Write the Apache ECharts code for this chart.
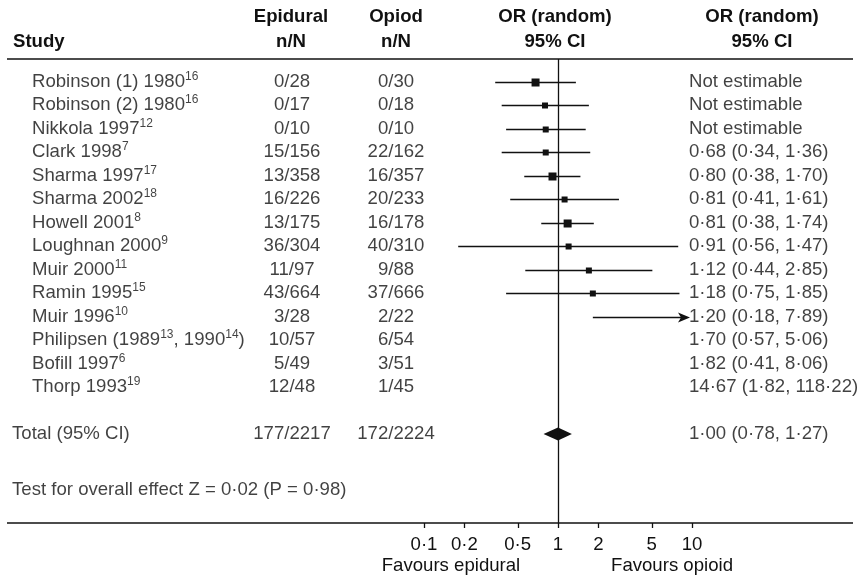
<!DOCTYPE html>
<html>
<head>
<meta charset="utf-8">
<script src="https://cdn.jsdelivr.net/npm/echarts@6/dist/echarts.min.js"></script>
<style>
  html, body { margin: 0; padding: 0; background: #ffffff; }
  #chart { width: 859px; height: 577px; }
</style>
</head>
<body>
<div id="chart"></div>
<script>
// ---- Data -------------------------------------------------------------
// Study names; "^nn" marks a reference superscript.
const studies = [
  'Robinson (1) 1980^16', 'Robinson (2) 1980^16', 'Nikkola 1997^12', 'Clark 1998^7',
  'Sharma 1997^17', 'Sharma 2002^18', 'Howell 2001^8', 'Loughnan 2000^9',
  'Muir 2000^11', 'Ramin 1995^15', 'Muir 1996^10', 'Philipsen (1989^13, 1990^14)',
  'Bofill 1997^6', 'Thorp 1993^19'
];
const epidural = ['0/28', '0/17', '0/10', '15/156', '13/358', '16/226', '13/175',
  '36/304', '11/97', '43/664', '3/28', '10/57', '5/49', '12/48'];
const opioid = ['0/30', '0/18', '0/10', '22/162', '16/357', '20/233', '16/178',
  '40/310', '9/88', '37/666', '2/22', '6/54', '3/51', '1/45'];
// Odds ratios with 95% CI (null = not estimable)
const oddsRatio = [null, null, null, 0.68, 0.80, 0.81, 0.81, 0.91, 1.12, 1.18, 1.20, 1.70, 1.82, 14.67];
const ciLow     = [null, null, null, 0.34, 0.38, 0.41, 0.38, 0.56, 0.44, 0.75, 0.18, 0.57, 0.41, 1.82];
const ciHigh    = [null, null, null, 1.36, 1.70, 1.61, 1.74, 1.47, 2.85, 1.85, 7.89, 5.06, 8.06, 118.22];

const totalLabel = 'Total (95% CI)';
const totalEpidural = '177/2217';
const totalOpioid = '172/2224';
const totalOR = 1.00, totalLow = 0.78, totalHigh = 1.27;
const effectTest = 'Test for overall effect Z = 0·02 (P = 0·98)';

const axisTicks = [0.1, 0.2, 0.5, 1, 2, 5, 10];

// ---- Styling ------------------------------------------------------------
const FONT = '"Liberation Sans", Arial, Helvetica, sans-serif';
const INK = '#111111';
const FS = 18.6;
const boxSize = [0, 0, 0, 8, 6, 6, 6, 8, 6, 8, 6, 6, 6, 6];   // weight squares, px

// Row layout on a shared (hidden) y scale: one unit per table row
const ROW_H = 23.5, TOP = 59, BOTTOM = 523, FIRST_ROW_Y = 81.5;
const Y_MIN = -(FIRST_ROW_Y - TOP) / ROW_H;
const Y_MAX = Y_MIN + (BOTTOM - TOP) / ROW_H;
const TOTAL_ROW = 15;
const TEST_ROW = 17.38;
const AXIS_MIN = 0.1, AXIS_MAX = 10;

const dot = v => v.toFixed(2).replace('.', '·');
const ciText = i => oddsRatio[i] == null ? 'Not estimable'
  : dot(oddsRatio[i]) + ' (' + dot(ciLow[i]) + ', ' + dot(ciHigh[i]) + ')';
const toRich = s => '{t|' + s.replace(/\^(\d+)/g, '}{s|$1}{t|') + '}';

// ---- Table columns: one narrow grid per column ------------------------
const columns = [
  { left: 32,  align: 'left'   },  // study
  { left: 292, align: 'center' },  // epidural n/N
  { left: 396, align: 'center' },  // opioid n/N
  { left: 689, align: 'left'   },  // OR text
  { left: 12,  align: 'left'   }   // summary lines
];

const grids = [{ left: 424, right: 859 - 692, top: TOP, bottom: 577 - BOTTOM }];
const xAxes = [{
  type: 'log', logBase: 10, min: AXIS_MIN, max: AXIS_MAX, gridIndex: 0, position: 'bottom',
  axisLine: { show: false, onZero: false },
  axisTick: { show: false },
  axisLabel: {
    customValues: axisTicks, margin: 12, fontSize: FS, fontFamily: FONT, color: INK,
    formatter: v => String(+v.toPrecision(3)).replace('.', '·')
  },
  minorTick: { show: false }, splitLine: { show: false }
}];
const yAxes = [{ type: 'value', inverse: true, min: Y_MIN, max: Y_MAX, show: false, gridIndex: 0 }];
columns.forEach((c, k) => {
  grids.push({ left: c.left, width: 10, top: TOP, bottom: 577 - BOTTOM });
  xAxes.push({ type: 'value', min: 0, max: 1, show: false, gridIndex: k + 1 });
  yAxes.push({ type: 'value', inverse: true, min: Y_MIN, max: Y_MAX, show: false, gridIndex: k + 1 });
});

function textSeries(colIdx, rows) {
  const c = columns[colIdx];
  return {
    type: 'scatter', xAxisIndex: colIdx + 1, yAxisIndex: colIdx + 1,
    symbolSize: 0, silent: true,
    data: rows.map(r => ({ value: [0, r.row], text: r.text })),
    label: {
      show: true,
      position: c.align === 'left' ? 'right' : 'inside',
      distance: 0,
      align: c.align, verticalAlign: 'middle',
      formatter: p => toRich(p.data.text),
      rich: {
        t: { fontSize: FS, fontFamily: FONT, color: INK, lineHeight: 22 },
        s: { fontSize: 12, fontFamily: FONT, color: INK, lineHeight: 14, verticalAlign: 'top' }
      }
    }
  };
}

// ---- Forest plot marks ------------------------------------------------
// estimable studies are stacked from the top row downward
const plotted = studies.map((s, i) => i).filter(i => oddsRatio[i] != null);
const ciData = plotted.map((i, k) => [ciLow[i], ciHigh[i], k, oddsRatio[i], boxSize[i]]);

function renderCI(params, api) {
  const lo = api.value(0), hi = api.value(1), row = api.value(2);
  const est = api.value(3), size = api.value(4);
  const start = api.coord([Math.max(lo, AXIS_MIN), row]);
  const end = api.coord([Math.min(hi, AXIS_MAX), row]);
  const y = Math.round(start[1]) + 0.5;
  const children = [];
  const lineEnd = hi > AXIS_MAX ? end[0] - 10 : end[0];
  children.push({
    type: 'line',
    shape: { x1: start[0], y1: y, x2: lineEnd, y2: y },
    style: { stroke: INK, lineWidth: 1.3 }
  });
  if (hi > AXIS_MAX) {
    children.push({
      type: 'polygon',
      shape: { points: [[end[0] - 2, y], [end[0] - 14, y - 5], [end[0] - 11, y], [end[0] - 14, y + 5]] },
      style: { fill: INK }
    });
  }
  if (est <= AXIS_MAX) {
    const c = api.coord([est, row]);
    children.push({
      type: 'rect',
      shape: { x: c[0] - size / 2, y: y - size / 2, width: size, height: size },
      style: { fill: INK }
    });
  }
  return { type: 'group', children };
}

function renderDiamond(params, api) {
  const lo = api.coord([api.value(0), api.value(2)]);
  const hi = api.coord([api.value(1), api.value(2)]);
  const mid = api.coord([api.value(3), api.value(2)]);
  const h = 6.5;
  return {
    type: 'polygon',
    shape: { points: [[lo[0], lo[1]], [mid[0], mid[1] - h], [hi[0], hi[1]], [mid[0], mid[1] + h]] },
    style: { fill: INK }
  };
}

// Downward tick marks under the log axis at the labelled values
function renderTick(params, api) {
  const p = api.coord([api.value(0), api.value(1)]);
  const x = Math.round(p[0]) + 0.5;
  return {
    type: 'line',
    shape: { x1: x, y1: p[1], x2: x, y2: p[1] + 5 },
    style: { stroke: INK, lineWidth: 1.3 }
  };
}

const studyRows = studies.map((s, i) => ({ row: i, text: s }));
const series = [
  {
    type: 'custom', xAxisIndex: 0, yAxisIndex: 0, silent: true,
    renderItem: renderCI, data: ciData,
    markLine: {
      silent: true, symbol: 'none', label: { show: false },
      lineStyle: { color: INK, width: 1.3, type: 'solid' },
      data: [{ xAxis: 1 }]
    }
  },
  {
    type: 'custom', xAxisIndex: 0, yAxisIndex: 0, silent: true,
    renderItem: renderDiamond, data: [[totalLow, totalHigh, TOTAL_ROW, totalOR]]
  },
  {
    type: 'custom', xAxisIndex: 0, yAxisIndex: 0, silent: true, clip: false,
    renderItem: renderTick, data: axisTicks.map(v => [v, Y_MAX])
  },
  textSeries(0, studyRows),
  textSeries(1, epidural.map((t, i) => ({ row: i, text: t })).concat([{ row: TOTAL_ROW, text: totalEpidural }])),
  textSeries(2, opioid.map((t, i) => ({ row: i, text: t })).concat([{ row: TOTAL_ROW, text: totalOpioid }])),
  textSeries(3, studies.map((s, i) => ({ row: i, text: ciText(i) }))
    .concat([{ row: TOTAL_ROW, text: dot(totalOR) + ' (' + dot(totalLow) + ', ' + dot(totalHigh) + ')' }])),
  textSeries(4, [{ row: TOTAL_ROW, text: totalLabel }, { row: TEST_ROW, text: effectTest }])
];

// ---- Headers, rules and direction captions ---------------------------
function gText(text, x, y, align, bold) {
  return {
    type: 'text', x, y, silent: true,
    style: {
      text, fill: INK, font: (bold ? 'bold ' : '') + FS + 'px ' + FONT,
      align, verticalAlign: 'middle', textAlign: align, textVerticalAlign: 'middle'
    }
  };
}
function gLine(x1, y1, x2, y2) {
  return { type: 'line', silent: true, shape: { x1, y1, x2, y2 }, style: { stroke: INK, lineWidth: 1.3 } };
}
const graphic = [
  gText('Study', 13, 42, 'left', true),
  gText('Epidural', 291, 17, 'center', true),
  gText('n/N', 291, 42, 'center', true),
  gText('Opiod', 396, 17, 'center', true),
  gText('n/N', 396, 42, 'center', true),
  gText('OR (random)', 555, 17, 'center', true),
  gText('95% CI', 555, 42, 'center', true),
  gText('OR (random)', 762, 17, 'center', true),
  gText('95% CI', 762, 42, 'center', true),
  gLine(7, TOP, 853, TOP),
  gLine(7, BOTTOM, 853, BOTTOM),
  gText('Favours epidural', 451, 566, 'center', false),
  gText('Favours opioid', 672, 566, 'center', false)
];

const chart = echarts.init(document.getElementById('chart'), null, { renderer: 'canvas' });
chart.setOption({
  animation: false,
  backgroundColor: '#ffffff',
  textStyle: { fontFamily: FONT },
  grid: grids,
  xAxis: xAxes,
  yAxis: yAxes,
  series,
  graphic
});
</script>
</body>
</html>
